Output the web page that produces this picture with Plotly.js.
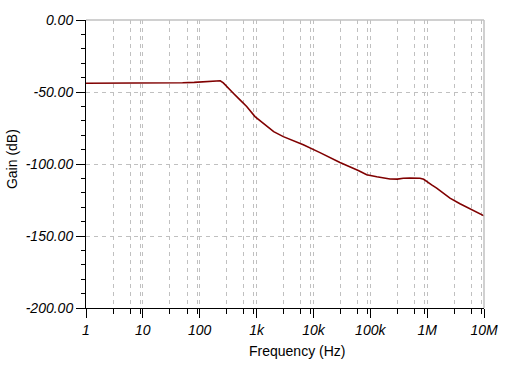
<!DOCTYPE html>
<html>
<head>
<meta charset="utf-8">
<script src="https://cdn.plot.ly/plotly-3.0.1.min.js"></script>
<style>html,body{margin:0;padding:0;background:#fff;}#chart{width:507px;height:369px;}</style>
</head>
<body>
<div id="chart"></div>
<script>
// Data
const freqHz = [1, 10, 30, 50, 80, 120, 160, 200, 230, 260, 298, 390, 511, 670, 938, 1200, 1507, 2000, 2951, 4500, 6637, 13040, 29300, 61500, 86500, 130000, 169000, 222000, 300000, 380000, 500000, 748000, 870000, 982000, 1200000, 1470000, 2000000, 2520000, 3780000, 6490000, 10000000];
const gainDb = [-43.9, -43.9, -43.8, -43.6, -43.3, -42.8, -42.3, -42.0, -42.2, -43.7, -46.3, -50.9, -55.5, -60.1, -67.1, -70.7, -74.0, -77.5, -81.0, -83.9, -86.7, -92.1, -99.0, -104.5, -107.5, -108.9, -109.8, -110.4, -110.5, -109.9, -109.8, -109.9, -110.6, -112.2, -114.5, -116.8, -120.7, -123.7, -127.6, -132.3, -136.0];

const xTickVals = [1, 10, 100, 1000, 10000, 100000, 1000000, 10000000];
const xTickText = ['1', '10', '100', '1k', '10k', '100k', '1M', '10M'];
const xMinorVals = [3, 6, 9, 30, 60, 90, 300, 600, 900, 3000, 6000, 9000, 30000, 60000, 90000, 300000, 600000, 900000, 3000000, 6000000, 9000000];
const yTickVals = [-200, -150, -100, -50, 0];
const yTickText = ['-200.00', '-150.00', '-100.00', '-50.00', '0.00'];

const tickFont = {family: 'Liberation Sans, Arial, sans-serif', size: 14, style: 'italic', color: '#000'};
const gridColor = '#c0c0c0';

const trace = {
  x: freqHz, y: gainDb, type: 'scatter', mode: 'lines',
  line: {color: '#800000', width: 1.6},
  hoverinfo: 'skip'
};

const layout = {
  width: 507, height: 369,
  margin: {l: 86, r: 23, t: 20, b: 61, pad: 0},
  paper_bgcolor: '#fff', plot_bgcolor: '#fff',
  showlegend: false,
  xaxis: {
    type: 'log', range: [0, 7],
    tickmode: 'array', tickvals: xTickVals, ticktext: xTickText,
    ticks: 'outside', ticklen: 9, tickwidth: 1, tickcolor: '#000',
    showline: true, linecolor: '#000', linewidth: 1,
    showgrid: true, gridcolor: gridColor, griddash: '4px,4px', gridwidth: 1,
    zeroline: false, tickfont: tickFont,
    minor: {tickvals: xMinorVals, ticks: 'outside', ticklen: 5, tickcolor: '#000', tickwidth: 1,
            showgrid: true, gridcolor: gridColor, griddash: '4px,4px', gridwidth: 1}
  },
  yaxis: {
    range: [-200, 0],
    tickmode: 'array', tickvals: yTickVals, ticktext: yTickText,
    ticks: 'outside', ticklen: 9, tickwidth: 1, tickcolor: '#000',
    showline: true, linecolor: '#000', linewidth: 1,
    showgrid: true, gridcolor: gridColor, griddash: '4px,4px', gridwidth: 1,
    zeroline: false, tickfont: tickFont,
    minor: {dtick: 10, tick0: 0, ticks: 'outside', ticklen: 4, tickcolor: '#000', tickwidth: 1, showgrid: false}
  },
  shapes: [
    {type: 'line', xref: 'paper', yref: 'paper', x0: 0, x1: 1, y0: 1, y1: 1, line: {color: gridColor, width: 1.5}},
    {type: 'line', xref: 'paper', yref: 'paper', x0: 1, x1: 1, y0: 0, y1: 1, line: {color: gridColor, width: 1.5}}
  ],
  annotations: [
    {text: 'Frequency (Hz)', xref: 'paper', yref: 'paper', x: 0.53, y: -0.149, xanchor: 'center', yanchor: 'middle',
     showarrow: false, font: {family: 'Liberation Sans, Arial, sans-serif', size: 14, color: '#000'}},
    {text: 'Gain (dB)', xref: 'paper', yref: 'paper', x: -0.186, y: 0.517, xanchor: 'center', yanchor: 'middle',
     textangle: -90, showarrow: false, font: {family: 'Liberation Sans, Arial, sans-serif', size: 14, color: '#000'}}
  ]
};

Plotly.newPlot('chart', [trace], layout, {staticPlot: true, displayModeBar: false});
</script>
</body>
</html>
